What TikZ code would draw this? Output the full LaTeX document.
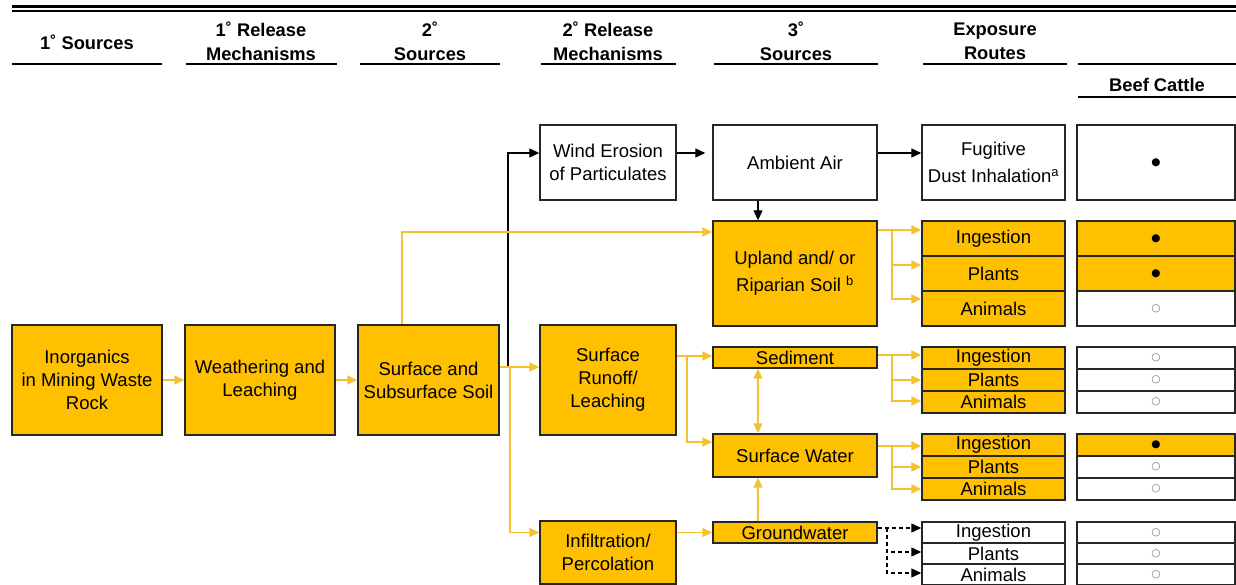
\documentclass[tikz,border=0pt]{standalone}
\usepackage{fontspec}
\setmainfont{Liberation Sans}
\newfontfamily\symfnt{DejaVu Sans}
\usetikzlibrary{arrows.meta}
\definecolor{gold}{HTML}{FFC000}
\definecolor{ycol}{HTML}{F3C232}
\definecolor{boxline}{HTML}{262626}
\newcommand\bfnt{\fontsize{18.5}{23}\selectfont}
\newcommand\hfnt{\fontsize{18.3}{24}\selectfont\bfseries}
\tikzset{
  box/.style={draw=boxline, line width=1.4pt, rectangle, align=center, inner sep=0pt, font=\bfnt},
  obox/.style={box, fill=gold},
  wbox/.style={box, fill=white},
  ebox/.style={minimum width=143pt},
  bcell/.style={box, minimum width=158pt, font=\fontsize{10.5}{10.5}\symfnt},
  hdr/.style={align=center, font=\hfnt, inner sep=0pt},
  uline/.style={line width=1.5pt, black},
  yln/.style={draw=ycol, line width=1.6pt},
  yarr/.style={yln, -{Triangle[length=10pt,width=9pt]}},
  ydarr/.style={yln, {Triangle[length=10pt,width=9pt]}-{Triangle[length=10pt,width=9pt]}},
  barr/.style={draw=black, line width=1.2pt, -{Triangle[length=10pt,width=9pt]}},
  bdash/.style={barr, dash pattern=on 4pt off 3pt},
}
\begin{document}
\begin{tikzpicture}[x=1pt,y=-1pt]
\useasboundingbox (0,0) rectangle (1236,585);
% header rules
\draw[line width=3pt] (12,7) -- (1236,7);
\draw[line width=1.2pt] (12,11) -- (1236,11);
\node[hdr] (h1) at (87,42) {1˚ Sources};
\node[hdr] (h2) at (261,41) {1˚ Release\\Mechanisms};
\node[hdr] (h3) at (430,41) {2˚\\Sources};
\node[hdr] (h4) at (608,41) {2˚ Release\\Mechanisms};
\node[hdr] (h5) at (796,41) {3˚\\Sources};
\node[hdr] (h6) at (995,41) {Exposure\\Routes};
\node[hdr] (h7) at (1157,85) {Beef Cattle};
\draw[uline] (12,64) -- (162,64);
\draw[uline] (186,64) -- (337,64);
\draw[uline] (360,64) -- (500,64);
\draw[uline] (541,64) -- (676,64);
\draw[uline] (714,64) -- (878,64);
\draw[uline] (923,64) -- (1067,64);
\draw[uline] (1078,64) -- (1236,64);
\draw[uline] (1078,97) -- (1236,97);

% main boxes
\node[obox, minimum width=150pt, minimum height=110pt] (inorg) at (87,380) {Inorganics\\in Mining Waste\\Rock};
\node[obox, minimum width=150pt, minimum height=110pt] (weath) at (260,380) {Weathering and\\Leaching};
\node[obox, minimum width=141pt, minimum height=110pt] (soil) at (428.5,380) {Surface and\\Subsurface Soil};
\node[obox, minimum width=136pt, minimum height=110pt] (runoff) at (608,380) {Surface\\Runoff/\\Leaching};
\node[obox, minimum width=136pt, minimum height=63pt] (infil) at (608,552.5) {Infiltration/\\Percolation};
\node[wbox, minimum width=136pt, minimum height=75pt] (wind) at (608,162.5) {Wind Erosion\\of Particulates};
\node[wbox, minimum width=164pt, minimum height=75pt] (air) at (795,162.5) {Ambient Air};
\node[wbox, ebox, minimum height=75pt] (dust) at (993.5,162.5) {Fugitive\\[4pt]Dust Inhalation\textsuperscript{a}};
\node[wbox, bcell, minimum height=75pt] (b0) at (1156,162.5) {●};

\node[obox, minimum width=164pt, minimum height=105pt] (upl) at (795,273.5) {Upland and/ or\\[4pt]Riparian Soil \textsuperscript{b}};
\node[obox, ebox, minimum height=35pt] (e1i) at (993.5,238.5) {Ingestion};
\node[obox, ebox, minimum height=35pt] (e1p) at (993.5,273.5) {Plants};
\node[obox, ebox, minimum height=35pt] (e1a) at (993.5,308.5) {Animals};
\node[obox, bcell, minimum height=35pt] (b1i) at (1156,238.5) {●};
\node[obox, bcell, minimum height=35pt] (b1p) at (1156,273.5) {●};
\node[wbox, bcell, minimum height=35pt, text=black!55] (b1a) at (1156,308.5) {○};

\node[obox, minimum width=164pt, minimum height=21pt] (sed) at (795,357.5) {Sediment};
\node[obox, ebox, minimum height=22pt] (e2i) at (993.5,358) {Ingestion};
\node[obox, ebox, minimum height=22pt] (e2p) at (993.5,380) {Plants};
\node[obox, ebox, minimum height=22pt] (e2a) at (993.5,402) {Animals};
\node[wbox, bcell, minimum height=22pt, text=black!55] (b2i) at (1156,358) {○};
\node[wbox, bcell, minimum height=22pt, text=black!55] (b2p) at (1156,380) {○};
\node[wbox, bcell, minimum height=22pt, text=black!55] (b2a) at (1156,402) {○};

\node[obox, minimum width=164pt, minimum height=43pt] (sw) at (795,455.5) {Surface Water};
\node[obox, ebox, minimum height=22pt] (e3i) at (993.5,445) {Ingestion};
\node[obox, ebox, minimum height=22pt] (e3p) at (993.5,467) {Plants};
\node[obox, ebox, minimum height=22pt] (e3a) at (993.5,489) {Animals};
\node[obox, bcell, minimum height=22pt] (b3i) at (1156,445) {●};
\node[wbox, bcell, minimum height=22pt, text=black!55] (b3p) at (1156,467) {○};
\node[wbox, bcell, minimum height=22pt, text=black!55] (b3a) at (1156,489) {○};

\node[obox, minimum width=164pt, minimum height=21pt] (gw) at (795,532.5) {Groundwater};
\node[wbox, ebox, minimum height=21pt] (e4i) at (993.5,532.5) {Ingestion};
\node[wbox, ebox, minimum height=21pt] (e4p) at (993.5,553.5) {Plants};
\node[wbox, ebox, minimum height=21pt] (e4a) at (993.5,574.5) {Animals};
\node[wbox, bcell, minimum height=21pt, text=black!55] (b4i) at (1156,532.5) {○};
\node[wbox, bcell, minimum height=21pt, text=black!55] (b4p) at (1156,553.5) {○};
\node[wbox, bcell, minimum height=21pt, text=black!55] (b4a) at (1156,574.5) {○};

% connectors
\coordinate (j1) at (510,367);
\coordinate (j2) at (508,367);
\coordinate (wy) at (0,153);
\coordinate (vx) at (758,0);
\coordinate (k) at (402,232);
\draw[yarr] (inorg.east) -- (weath.west);
\draw[yarr] (weath.east) -- (soil.west);
\draw[barr] (j2) |- (wind.west |- wy);
\draw[yarr] (j1 -| soil.east) -- (j1 -| runoff.west);
\draw[yarr] (j1) |- (infil.west |- gw.center);
\draw[barr, shorten >=7pt] (wind.east |- wy) -- (air.west |- wy);
\draw[barr] (air.east |- wy) -- (dust.west |- wy);
\draw[barr] (air.south -| vx) -- (upl.north -| vx);
\draw[yarr] (soil.north -| k) |- (upl.west |- k);

% upland branch
\coordinate (t1i) at (892,230);
\coordinate (t1p) at (892,265);
\coordinate (t1a) at (892,299);
\draw[yarr] (upl.east |- t1i) -- (e1i.west |- t1i);
\draw[yarr] (t1i) |- (e1p.west |- t1p);
\draw[yarr] (t1i) |- (e1a.west |- t1a);

% runoff to sediment / surface water
\coordinate (r1) at (687,356);
\coordinate (r2) at (687,442);
\draw[yarr] (runoff.east |- r1) -- (sed.west |- r1);
\draw[yarr] (r1) |- (sw.west |- r2);
\draw[ydarr] (sed.south -| vx) -- (sw.north -| vx);
\draw[yarr] (gw.north -| vx) -- (sw.south -| vx);
\draw[yarr] (infil.east |- gw.center) -- (gw.west);

% sediment branch
\coordinate (t2i) at (892,355);
\coordinate (t2p) at (892,380);
\coordinate (t2a) at (892,401);
\draw[yarr] (sed.east |- t2i) -- (e2i.west |- t2i);
\draw[yarr] (t2i) |- (e2p.west |- t2p);
\draw[yarr] (t2i) |- (e2a.west |- t2a);

% surface water branch
\coordinate (t3i) at (892,446);
\coordinate (t3p) at (892,467);
\coordinate (t3a) at (892,489);
\draw[yarr] (sw.east |- t3i) -- (e3i.west |- t3i);
\draw[yarr] (t3i) |- (e3p.west |- t3p);
\draw[yarr] (t3i) |- (e3a.west |- t3a);

% groundwater branch
\coordinate (t4i) at (887,528);
\coordinate (t4p) at (887,552);
\coordinate (t4a) at (887,573);
\draw[bdash] (gw.east |- t4i) -- (e4i.west |- t4i);
\draw[bdash] (t4i) |- (e4p.west |- t4p);
\draw[bdash] (t4i) |- (e4a.west |- t4a);
\end{tikzpicture}
\end{document}
